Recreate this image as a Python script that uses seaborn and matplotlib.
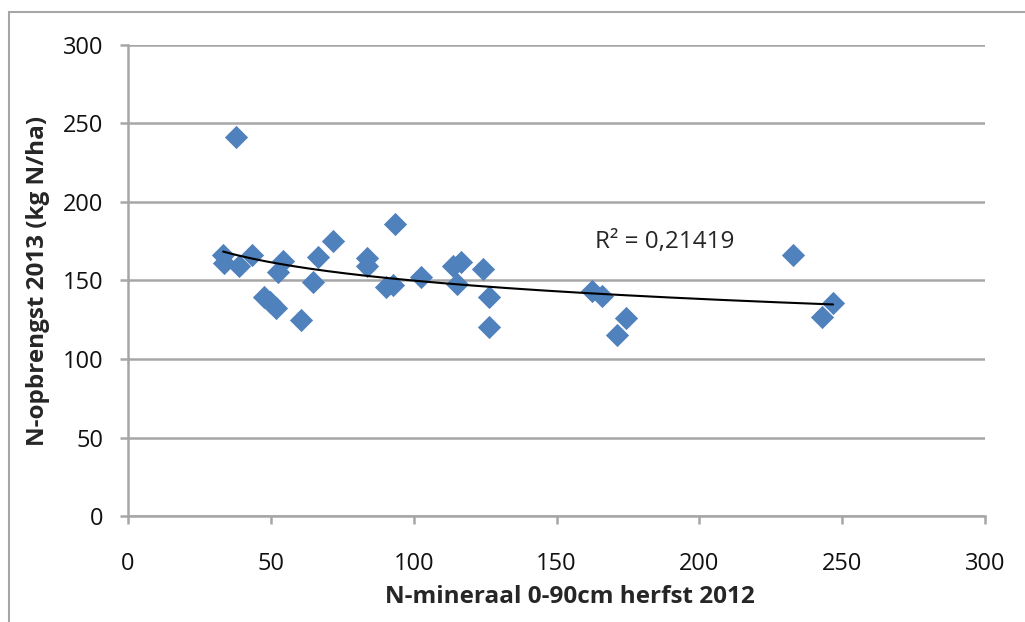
"""N-opbrengst 2013 versus N-mineraal herfst 2012."""
import numpy as np
import pandas as pd
from matplotlib import pyplot as plt
from matplotlib import patches
import seaborn as sns

# Data
n_mineraal = [33.3, 33.6, 37.8, 38.8, 43.5, 47.5, 49.7, 51.8, 52.4, 54.3,
              60.4, 64.6, 66.5, 71.6, 83.5, 83.5, 93.5, 90.3, 92.8, 102.5,
              113.8, 116.5, 115.3, 124.3, 126.2, 126.2, 162.3, 166.0,
              174.3, 171.2, 232.8, 243.1, 246.8]
n_opbrengst = [166.0, 161.0, 241.5, 159.0, 166.0, 139.5, 136.0, 132.5, 155.5,
               162.5, 125.0, 149.0, 165.0, 175.0, 164.5, 159.5, 186.0, 146.0,
               147.0, 152.0, 159.0, 162.0, 148.0, 157.0, 139.5, 120.5, 143.0,
               140.0, 126.0, 115.5, 166.0, 127.0, 135.5]
x_ticks = [0, 50, 100, 150, 200, 250, 300]
y_ticks = [0, 50, 100, 150, 200, 250, 300]
r2_label = 'R² = 0,21419'

df = pd.DataFrame({'x': n_mineraal, 'y': n_opbrengst})

# Logarithmic trendline fitted on the data
b, a = np.polyfit(np.log(df['x']), df['y'], 1)
x_fit = np.linspace(df['x'].min(), df['x'].max(), 200)
y_fit = a + b * np.log(x_fit)

sns.set_style('white')
plt.rcParams['font.family'] = ['Open Sans', 'DejaVu Sans']

fig = plt.figure(figsize=(10.25, 6.22), dpi=100)
ax = fig.add_axes([0.1249, 0.1704, 0.8361, 0.7573])

sns.scatterplot(df, x='x', y='y', marker='D', s=140, color='#4F81BD',
                linewidth=0, ax=ax, zorder=3)
ax.plot(x_fit, y_fit, color='black', linewidth=1.5, zorder=4)

ax.set_xlim(0, 300)
ax.set_ylim(0, 300)
ax.set_xticks(x_ticks)
ax.set_yticks(y_ticks)
ax.grid(axis='y', color='#A6A6A6', linewidth=1.8)
ax.set_axisbelow(True)
for side in ['top', 'right']:
    ax.spines[side].set_visible(False)
for side in ['left', 'bottom']:
    ax.spines[side].set_color('#A6A6A6')
    ax.spines[side].set_linewidth(1.8)
ax.tick_params(axis='both', direction='out', length=6, width=1.8,
               color='#A6A6A6', labelsize=17, labelcolor='#111111',
               left=True, bottom=True)
ax.tick_params(axis='y', pad=12)
ax.tick_params(axis='x', pad=20)

ax.set_xlabel('N-mineraal 0-90cm herfst 2012', fontsize=17.5,
              fontweight='bold', va='center')
ax.set_ylabel('N-opbrengst 2013 (kg N/ha)', fontsize=17.5,
              fontweight='bold', va='center')
ax.xaxis.set_label_coords(0.516, -0.172)
ax.yaxis.set_label_coords(-0.105, 0.50)

ax.text(163.5, 174.5, r2_label, fontsize=17.5, va='center', ha='left')

# Outer chart border
fig.patches.append(patches.Rectangle(
    (9 / 1025, -0.1), 1.2, 1 - 12 / 622 + 0.1, transform=fig.transFigure,
    fill=False, edgecolor='#A6A6A6', linewidth=1.5))

fig.savefig('out.png', dpi=100)
